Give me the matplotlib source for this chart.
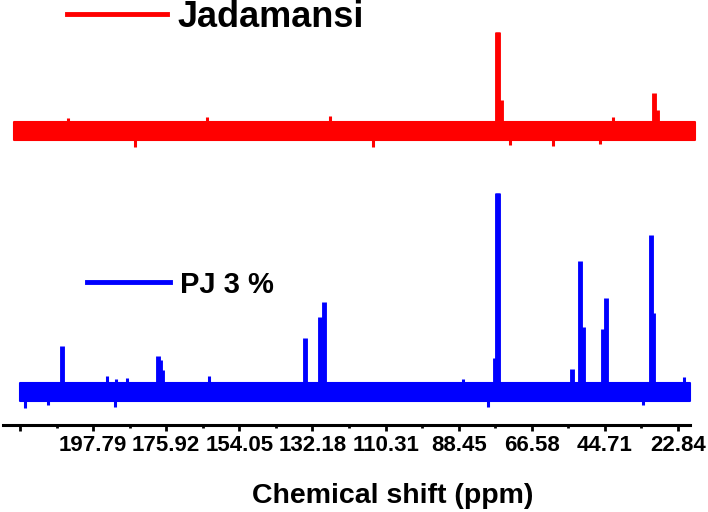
import matplotlib
matplotlib.use("Agg")
import matplotlib.pyplot as plt
import numpy as np
from matplotlib.lines import Line2D

plt.rcParams['font.family'] = ['Liberation Sans', 'DejaVu Sans']
plt.rcParams['font.weight'] = 'bold'

# ---------------- data ----------------
# x axis tick values (ppm) and labels
tick_values = [219.66, 197.79, 175.92, 154.05, 132.18, 110.31, 88.45, 66.58, 44.71, 22.84]
tick_labels = ['', '197.79', '175.92', '154.05', '132.18', '110.31', '88.45', '66.58', '44.71', '22.84']

# Jadamansi (red) spectrum
red_range = [221.5, 17.7]
red_noise_half = 9.0
red_peak_ppm = [77.1, 76.7, 75.8, 30.0, 29.2]
red_peak_int = [99, 99, 31, 38, 21]
red_spike_ppm = [205.3, 163.7, 126.9, 42.3, 185.3, 114.1, 73.1, 60.2, 46.2]
red_spike_int = [13, 14, 15, 14, -16, -16, -14, -15, -13]

# PJ 3 % (blue) spectrum
blue_range = [219.7, 19.2]
blue_noise_half = 9.0
blue_peak_ppm = [207.1, 178.4, 177.9, 177.3, 134.4, 129.9, 128.7,
                 77.6, 77.1, 76.7, 54.5, 52.15, 51.3, 45.3, 44.4, 30.9, 30.3]
blue_peak_int = [46, 36, 32, 22, 54, 75, 90,
                 34, 199, 199, 23, 131, 65, 63, 94, 157, 79]
blue_spike_ppm = [193.6, 190.9, 187.6, 163.1, 87.1, 21.0, 218.2, 211.3, 191.2, 79.7, 33.3]
blue_spike_int = [16, 13, 14, 16, 13, 15, -16, -13, -15, -15, -13]

series_names = ['Jadamansi', 'PJ 3 %']
series_colors = ['#ff0000', '#0000ff']

# ---------------- figure ----------------
W, H = 708, 512
fig = plt.figure(figsize=(W / 100, H / 100), dpi=100)
ax = fig.add_axes([0.5 / W, 0, 698.7 / W, 1])
ax.set_xlim(225.5, 16.5)
ax.set_ylim(0, H)

red_off = H - 131
blue_off = H - 392
axis_y = H - 425


def draw_spectrum(rng, half, pk_ppm, pk_int, sp_ppm, sp_int, off, color):
    x = np.linspace(rng[0], rng[1], 400)
    ax.fill_between(x, off - half, off + half, color=color, lw=1.5, edgecolor=color)
    ax.vlines(pk_ppm, off, np.array(pk_int) + off, color=color, lw=3.5, capstyle='butt')
    ax.vlines(sp_ppm, off, np.array(sp_int) + off, color=color, lw=2.2)


draw_spectrum(red_range, red_noise_half, red_peak_ppm, red_peak_int,
              red_spike_ppm, red_spike_int, red_off, series_colors[0])
draw_spectrum(blue_range, blue_noise_half, blue_peak_ppm, blue_peak_int,
              blue_spike_ppm, blue_spike_int, blue_off, series_colors[1])

# axes styling
for s in ['top', 'right', 'left']:
    ax.spines[s].set_visible(False)
ax.spines['bottom'].set_position(('data', axis_y))
ax.spines['bottom'].set_bounds(224.75, 19.24)
ax.spines['bottom'].set_linewidth(2.2)
ax.set_yticks([])
ax.set_xticks(tick_values)
ax.set_xticklabels(tick_labels, fontsize=16, fontweight='bold')
minor = [(tick_values[i] + tick_values[i + 1]) / 2 for i in range(len(tick_values) - 1)]
ax.set_xticks(minor, minor=True)
ax.tick_params(axis='x', which='major', length=4.5, width=2, direction='out', pad=3)
ax.tick_params(axis='x', which='minor', length=2.5, width=2, direction='out')
ax.patch.set_visible(False)

fig.text(393 / W, 1 - 503 / H, 'Chemical shift (ppm)', ha='center', va='baseline',
         fontsize=20.5, fontweight='bold')

# legends
fig.add_artist(Line2D([67 / W, 167 / W], [1 - 14 / H, 1 - 14 / H], color=series_colors[0], lw=3.5))
fig.text(177 / W, 1 - 27 / H, series_names[0], ha='left', va='baseline', fontsize=26, fontweight='bold')
fig.add_artist(Line2D([87 / W, 170 / W], [1 - 282 / H, 1 - 282 / H], color=series_colors[1], lw=3.5))
fig.text(180 / W, 1 - 293 / H, series_names[1], ha='left', va='baseline', fontsize=21, fontweight='bold')

fig.savefig('out.png', dpi=100)
